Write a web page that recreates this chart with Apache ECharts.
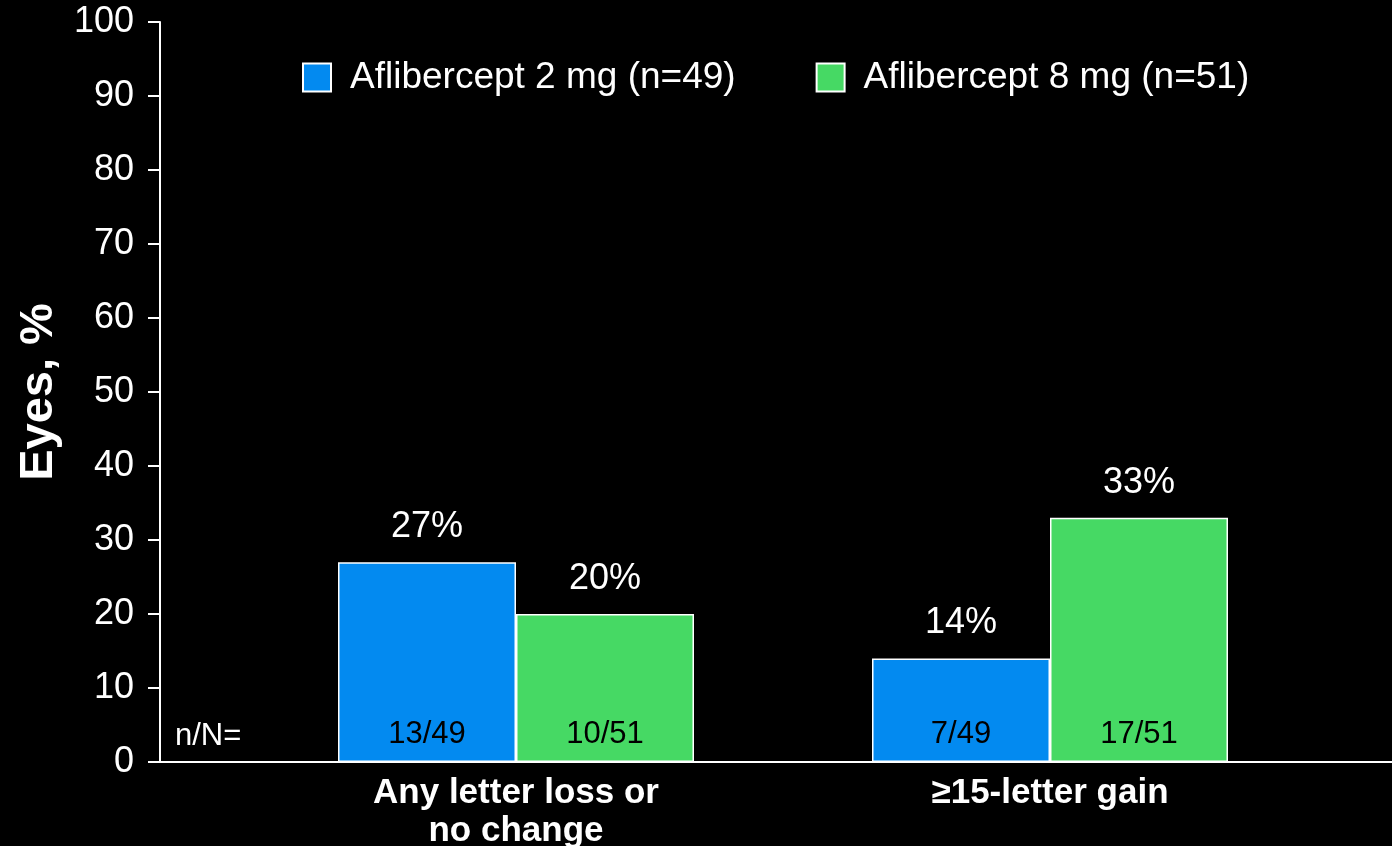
<!DOCTYPE html>
<html><head><meta charset="utf-8">
<script src="https://cdn.jsdelivr.net/npm/echarts@6/dist/echarts.min.js"></script>
<style>html,body{margin:0;padding:0;background:#000;}#c{width:1392px;height:846px;}</style>
</head><body><div id="c"></div>
<script>
const categories = ['Any letter loss or\nno change', '≥15-letter gain'];
const seriesNames = ['Aflibercept 2 mg (n=49)', 'Aflibercept 8 mg (n=51)'];
const values2mg = [27, 14];
const values8mg = [20, 33];
const counts2mg = ['13/49', '7/49'];
const counts8mg = ['10/51', '17/51'];
const yTicks = [0, 10, 20, 30, 40, 50, 60, 70, 80, 90, 100];
const colors = ['#038AF0', '#46D964'];
const font = 'Liberation Sans, Arial, sans-serif';

const chart = echarts.init(document.getElementById('c'));
function mk(name, vals, color) {
  return {
    name, type: 'bar', xAxisIndex: 0, yAxisIndex: 0,
    barWidth: 178, barGap: '0%',
    itemStyle: { color, borderColor: '#fff', borderWidth: 1.5 },
    data: vals,
    label: { show: true, position: 'top', distance: 17, color: '#fff', fontSize: 36, fontFamily: font,
      formatter: p => p.value + '%' }
  };
}
function inner(name, vals, counts) {
  return {
    name, type: 'bar', xAxisIndex: 2, yAxisIndex: 2,
    barWidth: 178, barGap: '0%', silent: true, legendHoverLink: false,
    itemStyle: { color: 'rgba(0,0,0,0)', borderWidth: 0 },
    data: vals.map((v, i) => ({ value: v, count: counts[i] })),
    label: { show: true, position: 'insideBottom', distance: 12, color: '#000', fontSize: 31, fontFamily: font,
      formatter: p => p.data.count },
    z: 3
  };
}

chart.setOption({
  backgroundColor: '#000',
  animation: false,
  title: { text: 'n/N=', left: 170, top: 716, textStyle: { color: '#fff', fontSize: 31, fontWeight: 'normal', fontFamily: font } },
  legend: {
    data: seriesNames, top: 54, left: 297, itemWidth: 28, itemHeight: 28, itemGap: 80, icon: 'rect',
    textStyle: { color: '#fff', fontSize: 37, fontFamily: font, padding: [0, 0, 0, 14] },
    itemStyle: { borderColor: '#fff', borderWidth: 2 }
  },
  grid: [
    { left: 249, right: 75, top: 22, bottom: 84, outerBoundsMode: 'none', containLabel: false },
    { left: 160, right: 0, top: 22, bottom: 84, outerBoundsMode: 'none', containLabel: false }
  ],
  xAxis: [
    { type: 'category', gridIndex: 0, data: categories,
      axisLine: { show: false }, axisTick: { show: false },
      axisLabel: { color: '#fff', fontSize: 35, fontWeight: 'bold', fontFamily: font, lineHeight: 38, margin: 12 } },
    { type: 'value', gridIndex: 1, min: 0, max: 1, axisLine: { show: true, onZero: false, lineStyle: { color: '#fff', width: 2 } },
      axisTick: { show: false }, axisLabel: { show: false }, splitLine: { show: false } },
    { type: 'category', gridIndex: 0, data: categories, show: false }
  ],
  yAxis: [
    { type: 'value', gridIndex: 0, min: 0, max: 100, interval: 10, show: false, splitLine: { show: false } },
    { type: 'value', gridIndex: 1, min: yTicks[0], max: yTicks[yTicks.length - 1], interval: 10,
      name: 'Eyes, %', nameLocation: 'middle', nameGap: 97, nameRotate: 90,
      nameTextStyle: { color: '#fff', fontSize: 47, fontWeight: 'bold', fontFamily: font },
      axisLine: { show: true, lineStyle: { color: '#fff', width: 2 } },
      axisTick: { show: true, length: 12, lineStyle: { color: '#fff', width: 2 } },
      axisLabel: { color: '#fff', fontSize: 36, fontFamily: font, margin: 26 },
      splitLine: { show: false } },
    { type: 'value', gridIndex: 0, min: 0, max: 100, interval: 10, show: false, splitLine: { show: false } }
  ],
  series: [
    mk(seriesNames[0], values2mg, colors[0]),
    mk(seriesNames[1], values8mg, colors[1]),
    inner(seriesNames[0], values2mg, counts2mg),
    inner(seriesNames[1], values8mg, counts8mg)
  ]
});
</script></body></html>
